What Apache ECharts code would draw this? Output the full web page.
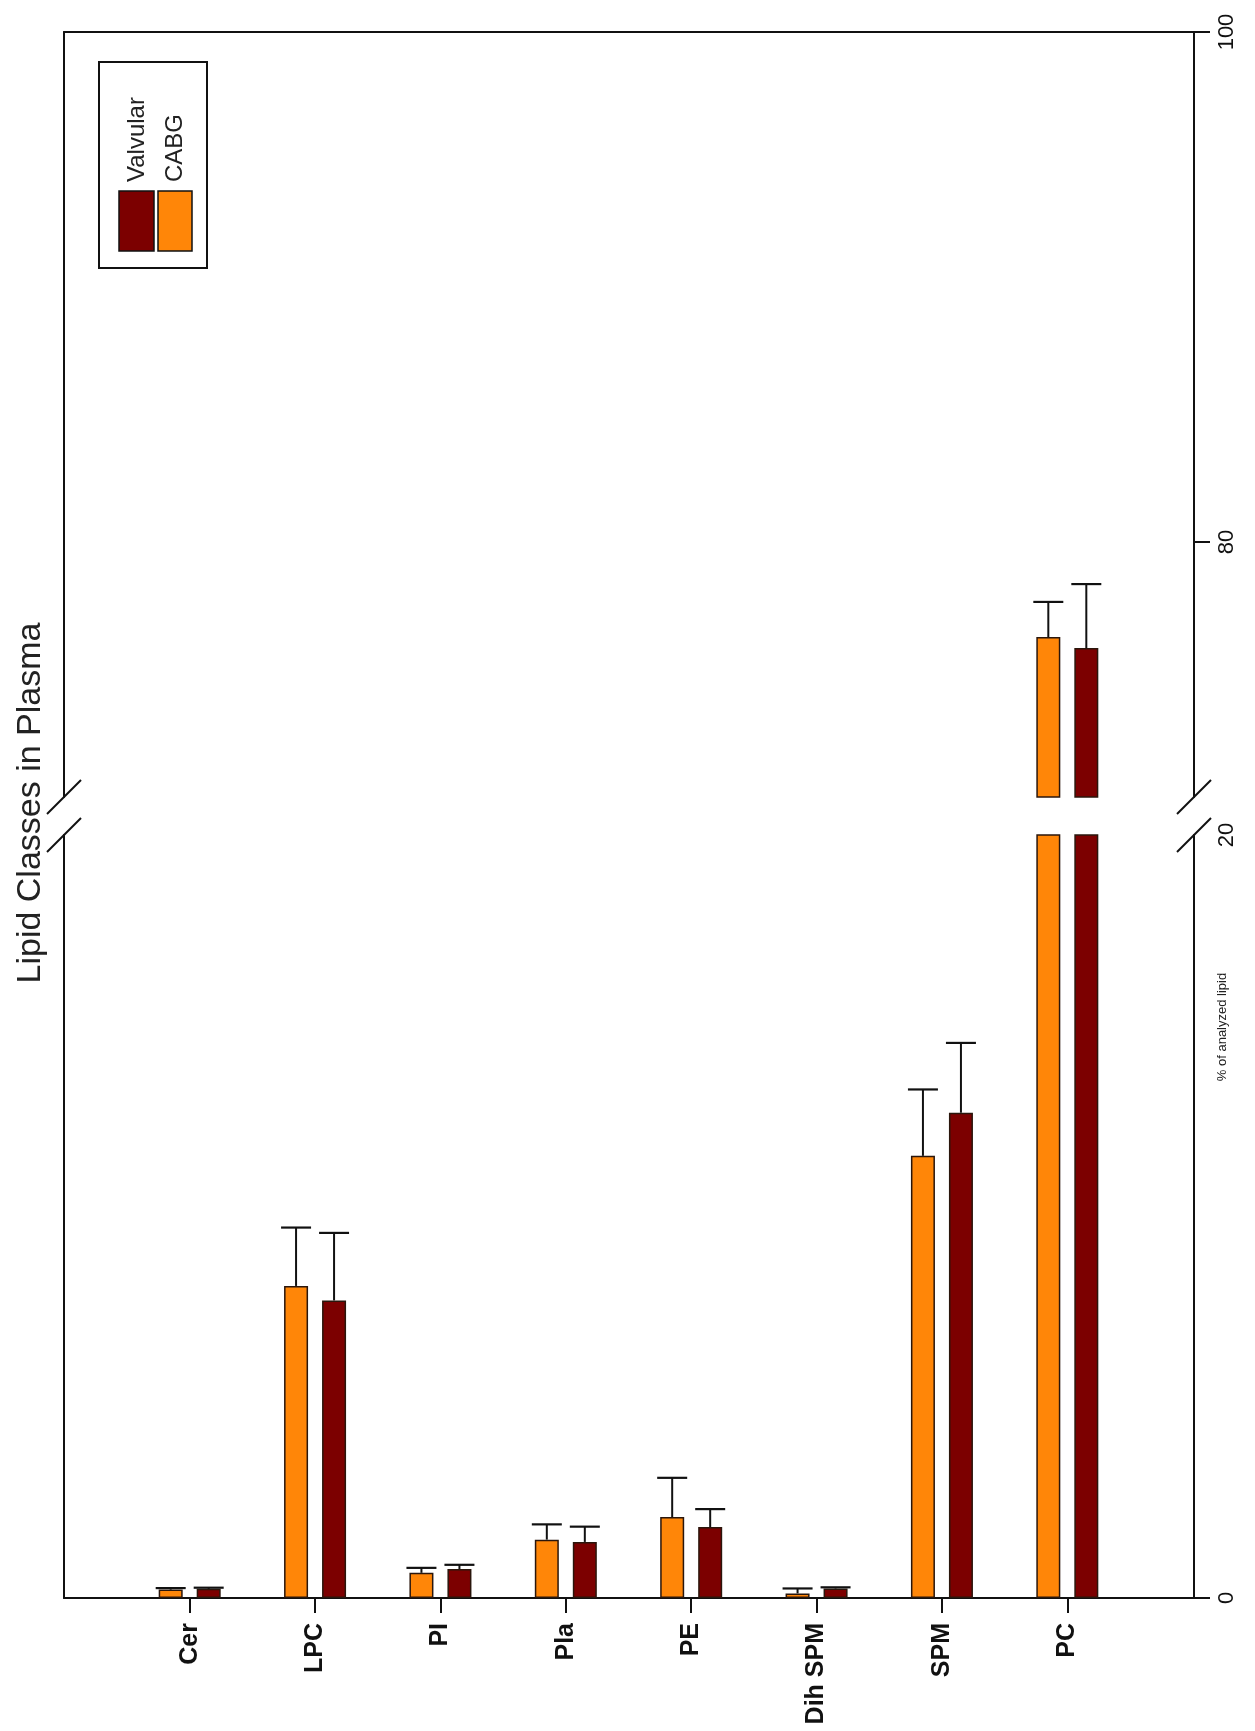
<!DOCTYPE html>
<html>
<head>
<meta charset="utf-8">
<title>Lipid Classes in Plasma</title>
<script src="https://cdn.jsdelivr.net/npm/echarts@6/dist/echarts.min.js"></script>
<style>
  html, body { margin: 0; padding: 0; background: #fff; }
  #chart { width: 1255px; height: 1731px; }
</style>
</head>
<body>
<div id="chart"></div>
<script>
// Lipid classes, % of analyzed lipid (mean and upper SD whisker)
const categories = ['Cer', 'LPC', 'PI', 'Pla', 'PE', 'Dih SPM', 'SPM', 'PC'];
const cabgMean      = [0.22, 8.18, 0.66, 1.53, 2.12, 0.12, 11.59, 76.27];
const cabgErr       = [0.04, 1.53, 0.13, 0.40, 1.03, 0.13, 1.74, 1.38];
const valvularMean  = [0.24, 7.80, 0.76, 1.47, 1.86, 0.25, 12.72, 75.84];
const valvularErr   = [0.03, 1.77, 0.11, 0.40, 0.47, 0.03, 1.83, 2.51];
const lowerRange = [0, 20];     // lower segment of the broken axis
const upperRange = [70, 100];   // upper segment of the broken axis
const lowerTickLabels = [0, 20];
const lowerTicks = [0];
const upperTickLabels = [80, 100];

const COL_CABG = '#FF8608';
const COL_VALV = '#7C0000';
const INK = '#111';

// layout (px)
const FRAME_L = 64, FRAME_R = 1194, TOP = 32, UP_BOTTOM = 797, LOW_TOP = 835, BOTTOM = 1598;
const BARS_L = 127, BARS_R = 1130;
const BAR_W = 24, BAR_GAP_PX = 14;
const HALF_SPACING = (BAR_W + BAR_GAP_PX) / 2;

const chart = echarts.init(document.getElementById('chart'), null, { renderer: 'canvas' });

const hiddenAxis = {
  axisLine: { show: false }, axisTick: { show: false },
  axisLabel: { show: false }, splitLine: { show: false }
};
const lineStyle = { color: INK, width: 2 };
const fontFam = 'Liberation Sans, Arial, sans-serif';

function errorRenderer(sign) {
  return function (params, api) {
    const base = api.coord([api.value(0), api.value(1)]);
    const top = api.coord([api.value(0), api.value(1) + api.value(2)]);
    const x = base[0] + sign * HALF_SPACING;
    const capHalf = 15;
    return {
      type: 'group',
      children: [
        { type: 'line', shape: { x1: x, y1: base[1], x2: x, y2: top[1] },
          style: { stroke: INK, lineWidth: 2 } },
        { type: 'line', shape: { x1: x - capHalf, y1: top[1], x2: x + capHalf, y2: top[1] },
          style: { stroke: INK, lineWidth: 2.2 } }
      ]
    };
  };
}

function inRange(values, range) {
  return values.map(v => (v > range[0] ? v : '-'));
}
function errData(means, errs, range) {
  return means.map((m, i) => [i, m, errs[i]]).filter(d => d[1] > range[0]);
}

const barStyle = c => ({ color: c, borderColor: '#2a160c', borderWidth: 1.5 });
const barGap = (BAR_GAP_PX / BAR_W * 100) + '%';

const option = {
  backgroundColor: '#fff',
  animation: false,
  grid: [
    { left: BARS_L, top: LOW_TOP, width: BARS_R - BARS_L, height: BOTTOM - LOW_TOP },
    { left: BARS_L, top: TOP, width: BARS_R - BARS_L, height: UP_BOTTOM - TOP },
    { left: FRAME_L, top: LOW_TOP, width: FRAME_R - FRAME_L, height: BOTTOM - LOW_TOP },
    { left: FRAME_L, top: TOP, width: FRAME_R - FRAME_L, height: UP_BOTTOM - TOP }
  ],
  xAxis: [
    { gridIndex: 0, type: 'category', data: categories, position: 'bottom',
      axisLine: { show: false },
      axisTick: { show: true, alignWithLabel: true, length: 15, lineStyle: lineStyle },
      axisLabel: { rotate: 90, margin: 25, color: INK, fontSize: 25, fontWeight: 'bold',
                   fontFamily: fontFam },
      splitLine: { show: false } },
    Object.assign({ gridIndex: 1, type: 'category', data: categories }, hiddenAxis),
    { gridIndex: 2, type: 'value', min: 0, max: 1, position: 'bottom',
      axisLine: { show: true, lineStyle: lineStyle }, axisTick: { show: false },
      axisLabel: { show: false }, splitLine: { show: false } },
    { gridIndex: 3, type: 'value', min: 0, max: 1, position: 'top',
      axisLine: { show: true, lineStyle: lineStyle }, axisTick: { show: false },
      axisLabel: { show: false }, splitLine: { show: false } }
  ],
  yAxis: [
    Object.assign({ gridIndex: 0, type: 'value', min: lowerRange[0], max: lowerRange[1] }, hiddenAxis),
    Object.assign({ gridIndex: 1, type: 'value', min: upperRange[0], max: upperRange[1] }, hiddenAxis),
    { gridIndex: 2, type: 'value', min: lowerRange[0], max: lowerRange[1], position: 'left',
      axisLine: { show: true, onZero: false, lineStyle: lineStyle }, axisTick: { show: false },
      axisLabel: { show: false }, splitLine: { show: false } },
    { gridIndex: 2, type: 'value', min: lowerRange[0], max: lowerRange[1], position: 'right',
      axisLine: { show: true, onZero: false, lineStyle: lineStyle },
      axisTick: { show: true, length: 16, lineStyle: lineStyle, customValues: lowerTicks },
      axisLabel: { show: true, rotate: 90, margin: 22, align: 'center', verticalAlign: 'top',
                   color: INK, fontSize: 22, fontFamily: fontFam,
                   customValues: lowerTickLabels },
      splitLine: { show: false } },
    { gridIndex: 3, type: 'value', min: upperRange[0], max: upperRange[1], position: 'left',
      axisLine: { show: true, onZero: false, lineStyle: lineStyle }, axisTick: { show: false },
      axisLabel: { show: false }, splitLine: { show: false } },
    { gridIndex: 3, type: 'value', min: upperRange[0], max: upperRange[1], position: 'right',
      axisLine: { show: true, onZero: false, lineStyle: lineStyle },
      axisTick: { show: true, length: 16, lineStyle: lineStyle, customValues: upperTickLabels },
      axisLabel: { show: true, rotate: 90, margin: 22, align: 'center', verticalAlign: 'top',
                   color: INK, fontSize: 22, fontFamily: fontFam,
                   customValues: upperTickLabels },
      splitLine: { show: false } }
  ],
  series: [
    // lower segment
    { name: 'CABG', type: 'bar', xAxisIndex: 0, yAxisIndex: 0, data: cabgMean,
      barWidth: BAR_W, barGap: barGap, itemStyle: barStyle(COL_CABG) },
    { name: 'Valvular', type: 'bar', xAxisIndex: 0, yAxisIndex: 0, data: valvularMean,
      barWidth: BAR_W, barGap: barGap, itemStyle: barStyle(COL_VALV) },
    // upper segment
    { name: 'CABG', type: 'bar', xAxisIndex: 1, yAxisIndex: 1, data: inRange(cabgMean, upperRange),
      barWidth: BAR_W, barGap: barGap, itemStyle: barStyle(COL_CABG) },
    { name: 'Valvular', type: 'bar', xAxisIndex: 1, yAxisIndex: 1, data: inRange(valvularMean, upperRange),
      barWidth: BAR_W, barGap: barGap, itemStyle: barStyle(COL_VALV) },
    // error whiskers
    { type: 'custom', xAxisIndex: 0, yAxisIndex: 0, clip: true, z: 3,
      data: cabgMean.map((m, i) => [i, m, cabgErr[i]]), renderItem: errorRenderer(-1) },
    { type: 'custom', xAxisIndex: 0, yAxisIndex: 0, clip: true, z: 3,
      data: valvularMean.map((m, i) => [i, m, valvularErr[i]]), renderItem: errorRenderer(1) },
    { type: 'custom', xAxisIndex: 1, yAxisIndex: 1, clip: true, z: 3,
      data: errData(cabgMean, cabgErr, upperRange), renderItem: errorRenderer(-1) },
    { type: 'custom', xAxisIndex: 1, yAxisIndex: 1, clip: true, z: 3,
      data: errData(valvularMean, valvularErr, upperRange), renderItem: errorRenderer(1) }
  ]
};

chart.setOption(option);

// axis-break slashes, title, axis name and legend
function slash(x, y) {
  return { type: 'line', shape: { x1: x - 17, y1: y + 17, x2: x + 17, y2: y - 17 },
           style: { stroke: INK, lineWidth: 2 }, z: 10 };
}
const breakLow = chart.convertToPixel({ yAxisIndex: 3 }, lowerRange[1]);
const breakUp = chart.convertToPixel({ yAxisIndex: 5 }, upperRange[0]);

chart.setOption({
  graphic: [
    slash(FRAME_L, breakUp), slash(FRAME_L, breakLow),
    slash(FRAME_R, breakUp), slash(FRAME_R, breakLow),
    { type: 'text', x: 31, y: (TOP + BOTTOM) / 2 - 12, rotation: Math.PI / 2,
      style: { text: 'Lipid Classes in Plasma', fill: '#222', font: '34px ' + fontFam,
               textAlign: 'center', textVerticalAlign: 'middle' } },
    { type: 'text', x: 1222, y: 1027, rotation: Math.PI / 2,
      style: { text: '% of analyzed lipid', fill: '#222', font: '13px ' + fontFam,
               textAlign: 'center', textVerticalAlign: 'middle' } },
    // legend
    { type: 'rect', shape: { x: 99, y: 62, width: 108, height: 206 },
      style: { fill: '#fff', stroke: INK, lineWidth: 2 } },
    { type: 'rect', shape: { x: 119, y: 191, width: 35, height: 60 },
      style: { fill: COL_VALV, stroke: INK, lineWidth: 1.5 } },
    { type: 'rect', shape: { x: 158, y: 191, width: 34, height: 60 },
      style: { fill: COL_CABG, stroke: INK, lineWidth: 1.5 } },
    { type: 'text', x: 137, y: 182, rotation: Math.PI / 2,
      style: { text: 'Valvular', fill: '#222', font: '24px ' + fontFam,
               textAlign: 'left', textVerticalAlign: 'middle' } },
    { type: 'text', x: 175, y: 182, rotation: Math.PI / 2,
      style: { text: 'CABG', fill: '#222', font: '24px ' + fontFam,
               textAlign: 'left', textVerticalAlign: 'middle' } }
  ]
});
</script>
</body>
</html>
